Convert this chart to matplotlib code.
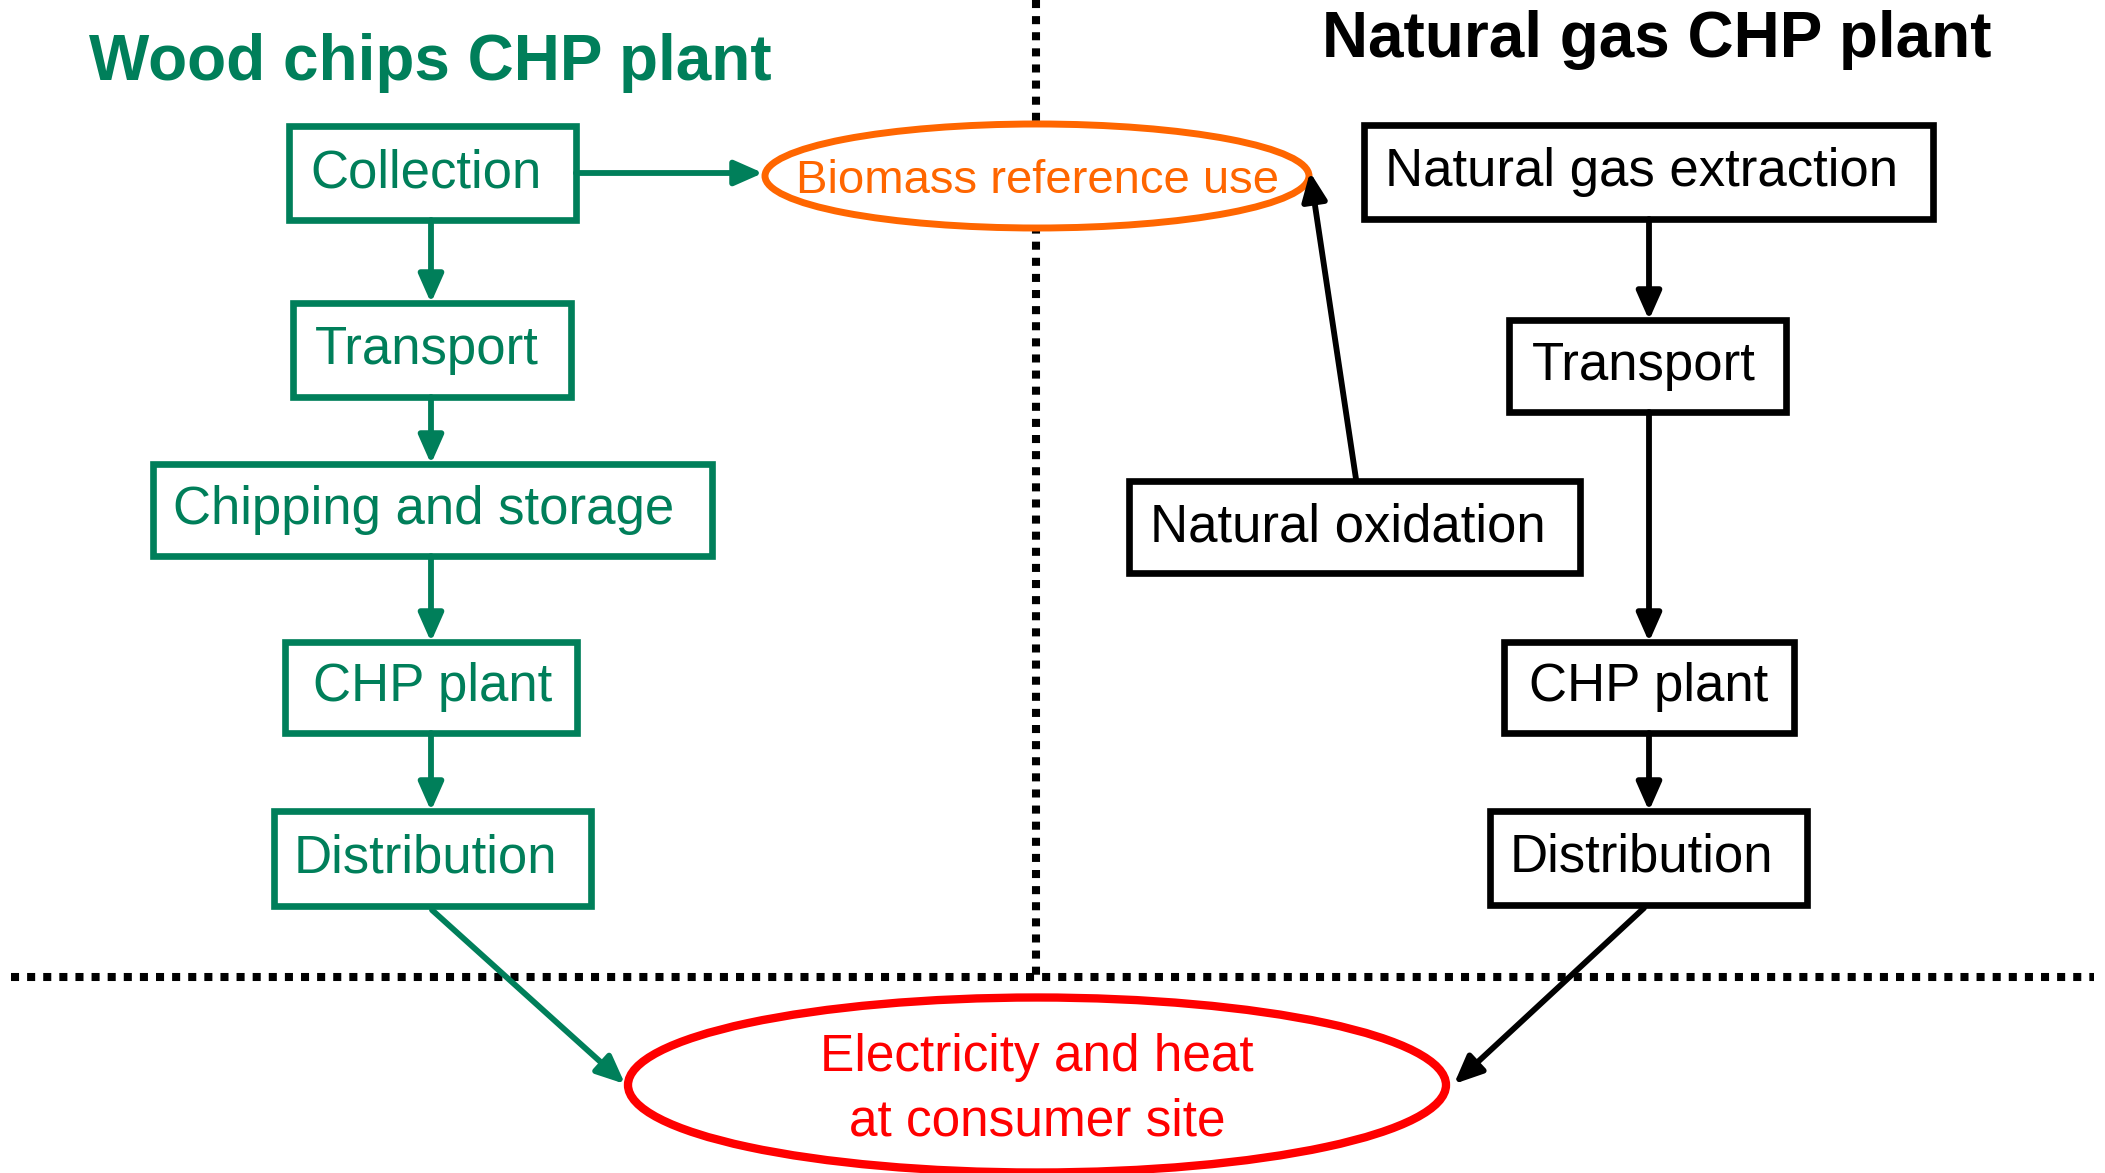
import matplotlib
matplotlib.use("Agg")
import matplotlib.pyplot as plt
from matplotlib.patches import Rectangle, Ellipse, FancyArrowPatch

plt.rcParams['font.family'] = ['Liberation Sans', 'DejaVu Sans']

GREEN = '#007F5A'
BLACK = '#000000'
ORANGE = '#FF6600'
RED = '#FF0000'

# chain labels
wood_steps = ["Collection", "Transport", "Chipping and storage", "CHP plant", "Distribution"]
gas_steps = ["Natural gas extraction", "Transport", "CHP plant", "Distribution"]
side_step = "Natural oxidation"
titles = ["Wood chips CHP plant", "Natural gas CHP plant"]
reference_use = "Biomass reference use"
end_use = "Electricity and heat\nat consumer site"

# layout in pixels (x0, x1, y0, y1, text_x)
wood_boxes = [
    (289, 576, 126, 220, 310),
    (293, 571, 303, 397, 315),
    (153, 712, 464, 556, 173),
    (285, 577, 642, 733, 313),
    (274, 591, 811, 906, 294),
]
gas_boxes = [
    (1364, 1933, 125, 219, 1385),
    (1509, 1786, 320, 412, 1532),
    (1504, 1794, 642, 733, 1529),
    (1490, 1807, 811, 905, 1510),
]
side_box = (1129, 1580, 481, 573, 1150)

W, H = 2105, 1173
fig = plt.figure(figsize=(W / 100, H / 100), dpi=100)
ax = fig.add_axes([0, 0, 1, 1])
ax.set_xlim(0, W)
ax.set_ylim(H, 0)
ax.axis('off')


def draw_box(b, label, color):
    x0, x1, y0, y1, tx = b
    ax.add_patch(Rectangle((x0, y0), x1 - x0, y1 - y0, fill=False,
                           edgecolor=color, lw=4.8, joinstyle='miter', zorder=3))
    ax.text(tx, (y0 + y1) / 2 + 14, label, color=color, fontsize=38,
            ha='left', va='baseline', zorder=4)


def arrow(p0, p1, color):
    ax.add_patch(FancyArrowPatch(p0, p1, arrowstyle='-|>,head_length=17,head_width=7.5',
                                 mutation_scale=1, color=color, lw=4.2,
                                 shrinkA=0, shrinkB=0, zorder=5))


# dotted separators
ax.plot([1036, 1036], [0, 977], color='black', lw=5.8, ls=(0, (1, 1)),
        dash_capstyle='butt', zorder=1)
ax.plot([11, 2094], [977, 977], color='black', lw=5.8, ls=(0, (1, 1)),
        dash_capstyle='butt', zorder=1)

# titles
ax.text(89, 80, titles[0], color=GREEN, fontsize=46, fontweight='bold',
        ha='left', va='baseline')
ax.text(1322, 57, titles[1], color=BLACK, fontsize=46, fontweight='bold',
        ha='left', va='baseline')

# wood chips chain
for b, lab in zip(wood_boxes, wood_steps):
    draw_box(b, lab, GREEN)
for a, b in zip(wood_boxes[:-1], wood_boxes[1:]):
    arrow((431, a[3]), (431, b[2]), GREEN)

# natural gas chain
for b, lab in zip(gas_boxes, gas_steps):
    draw_box(b, lab, BLACK)
for a, b in zip(gas_boxes[:-1], gas_boxes[1:]):
    arrow((1649, a[3]), (1649, b[2]), BLACK)
draw_box(side_box, side_step, BLACK)

# biomass reference use
ax.add_patch(Ellipse((1037, 176), 544, 104, facecolor='white', edgecolor=ORANGE,
                     lw=5, zorder=3))
ax.text(1037, 176, reference_use, color=ORANGE, fontsize=34, ha='center',
        va='center_baseline', zorder=4)
arrow((576, 173), (763, 173), GREEN)
arrow((1356, 479), (1310, 172), BLACK)

# end use
ax.add_patch(Ellipse((1037, 1085), 818, 175, facecolor='white', edgecolor=RED,
                     lw=6, zorder=3))
l1, l2 = end_use.split('\n')
ax.text(1037, 1071, l1, color=RED, fontsize=37, ha='center', va='baseline', zorder=4)
ax.text(1037, 1135, l2, color=RED, fontsize=37, ha='center', va='baseline', zorder=4)
arrow((432, 910), (625, 1084), GREEN)
arrow((1644, 908), (1454, 1084), BLACK)

fig.savefig('out.png', dpi=100)
